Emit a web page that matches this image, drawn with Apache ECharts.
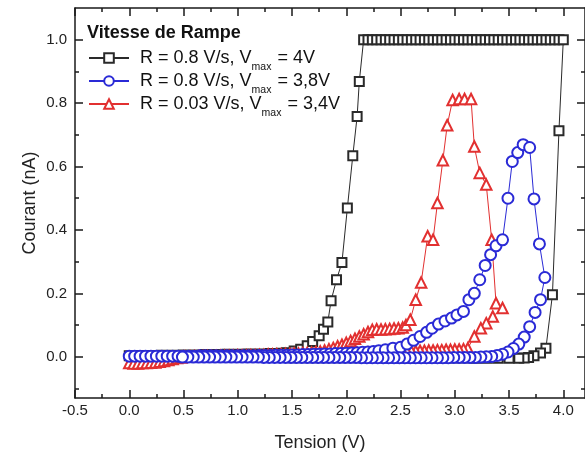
<!DOCTYPE html>
<html><head><meta charset="utf-8">
<script src="https://cdn.jsdelivr.net/npm/echarts@6/dist/echarts.min.js"></script>
<style>html,body{margin:0;padding:0;background:#fff}#c{width:585px;height:457px}</style>
</head><body><div id="c"></div>
<script>
// ---------- tick labels / ticks ----------
const xMajorTicks = [-0.5, 0, 0.5, 1, 1.5, 2, 2.5, 3, 3.5, 4];
const xMinorTicks = [-0.25, 0.25, 0.75, 1.25, 1.75, 2.25, 2.75, 3.25, 3.75];
const yMajorTicks = [0, 0.2, 0.4, 0.6, 0.8, 1.0];
const yMinorTicks = [-0.1, 0.1, 0.3, 0.5, 0.7, 0.9];

// ---------- series names ----------
const seriesNames = ['R = 0.8 V/s, Vmax = 4V', 'R = 0.8 V/s, Vmax = 3,8V', 'R = 0.03 V/s, Vmax = 3,4V'];

// ---------- black: R = 0.8 V/s, Vmax = 4V ----------
const blackUp = [[0.0,0.003],[0.1,0.004],[0.2,0.004],[0.3,0.005],[0.4,0.005],[0.5,0.006],[0.6,0.006],[0.7,0.007],[0.8,0.007],[0.9,0.008],[1.0,0.008],[1.1,0.009],[1.2,0.009],[1.3,0.010],[1.4,0.011],[1.45,0.013],[1.52,0.018],[1.58,0.024],[1.64,0.035],[1.69,0.048],[1.75,0.066],[1.79,0.087],[1.83,0.110],[1.86,0.177],[1.91,0.243],[1.96,0.297],[2.01,0.469],[2.06,0.634],[2.10,0.758],[2.12,0.868]];
const blackSat = [[2.16,1.0],[2.20,1.0],[2.24,1.0],[2.28,1.0],[2.32,1.0],[2.36,1.0],[2.40,1.0],[2.44,1.0],[2.48,1.0],[2.52,1.0],[2.56,1.0],[2.60,1.0],[2.64,1.0],[2.68,1.0],[2.72,1.0],[2.76,1.0],[2.80,1.0],[2.84,1.0],[2.88,1.0],[2.92,1.0],[2.96,1.0],[3.00,1.0],[3.04,1.0],[3.08,1.0],[3.12,1.0],[3.16,1.0],[3.20,1.0],[3.24,1.0],[3.28,1.0],[3.32,1.0],[3.36,1.0],[3.40,1.0],[3.44,1.0],[3.48,1.0],[3.52,1.0],[3.56,1.0],[3.60,1.0],[3.64,1.0],[3.68,1.0],[3.72,1.0],[3.76,1.0],[3.80,1.0],[3.84,1.0],[3.88,1.0],[3.92,1.0],[3.96,1.0],[4.00,1.0]];
const blackDown = [[3.96,0.713],[3.90,0.196],[3.84,0.027],[3.79,0.012],[3.73,0.003],[3.68,-0.002],[3.64,-0.004],[3.59,-0.005],[3.50,-0.005],[3.40,-0.005],[3.30,-0.005],[3.20,-0.005],[3.10,-0.004],[3.00,-0.004],[2.90,-0.004],[2.80,-0.004],[2.70,-0.004],[2.60,-0.004],[2.50,-0.004],[2.40,-0.004],[2.30,-0.003],[2.20,-0.003],[2.10,-0.003],[2.00,-0.003],[1.90,-0.003],[1.80,-0.003],[1.70,-0.003],[1.60,-0.003],[1.50,-0.003],[1.40,-0.002],[1.30,-0.002],[1.20,-0.002],[1.10,-0.002],[1.00,-0.002],[0.90,-0.002],[0.80,-0.002],[0.70,-0.001],[0.60,-0.001],[0.50,-0.001]];

// ---------- blue: R = 0.8 V/s, Vmax = 3,8V ----------
const blueUp = [[0.00,0.002],[0.05,0.002],[0.10,0.002],[0.15,0.002],[0.20,0.002],[0.25,0.002],[0.30,0.002],[0.35,0.002],[0.40,0.002],[0.45,0.002],[0.50,0.002],[0.55,0.002],[0.60,0.002],[0.65,0.003],[0.70,0.003],[0.75,0.003],[0.80,0.003],[0.85,0.003],[0.90,0.003],[0.95,0.003],[1.00,0.003],[1.05,0.003],[1.10,0.003],[1.15,0.003],[1.20,0.004],[1.25,0.004],[1.30,0.004],[1.35,0.005],[1.40,0.005],[1.45,0.005],[1.50,0.006],[1.55,0.006],[1.60,0.007],[1.65,0.007],[1.70,0.008],[1.75,0.008],[1.80,0.009],[1.85,0.009],[1.90,0.010],[1.95,0.010],[2.00,0.011],[2.05,0.012],[2.10,0.013],[2.15,0.014],[2.20,0.015],[2.25,0.017],[2.30,0.019],[2.36,0.022],[2.43,0.027],[2.50,0.030],[2.56,0.040],[2.62,0.052],[2.68,0.064],[2.74,0.077],[2.79,0.090],[2.85,0.103],[2.91,0.113],[2.97,0.122],[3.02,0.132],[3.08,0.143],[3.13,0.180],[3.18,0.200],[3.23,0.243],[3.28,0.288],[3.33,0.322],[3.38,0.350],[3.44,0.369],[3.49,0.500],[3.53,0.616],[3.58,0.644],[3.63,0.669],[3.69,0.660],[3.73,0.498],[3.78,0.356],[3.83,0.250]];
const blueDown = [[3.79,0.180],[3.74,0.140],[3.69,0.095],[3.64,0.062],[3.59,0.040],[3.54,0.026],[3.49,0.015],[3.44,0.008],[3.39,0.004],[3.34,0.001],[3.29,0.000],[3.24,-0.001],[3.19,-0.002],[3.14,-0.002],[3.09,-0.002],[3.04,-0.002],[2.99,-0.002],[2.94,-0.003],[2.89,-0.003],[2.84,-0.003],[2.79,-0.003],[2.74,-0.003],[2.69,-0.003],[2.64,-0.003],[2.59,-0.003],[2.54,-0.003],[2.49,-0.003],[2.44,-0.003],[2.39,-0.003],[2.34,-0.003],[2.29,-0.003],[2.24,-0.003],[2.19,-0.003],[2.14,-0.003],[2.09,-0.002],[2.04,-0.002],[1.99,-0.002],[1.94,-0.002],[1.89,-0.002],[1.84,-0.002],[1.79,-0.002],[1.74,-0.002],[1.69,-0.002],[1.64,-0.002],[1.59,-0.002],[1.54,-0.002],[1.49,-0.002],[1.44,-0.002],[1.39,-0.002],[1.34,-0.002],[1.29,-0.002],[1.24,-0.002],[1.19,-0.001],[1.14,-0.001],[1.09,-0.001],[1.04,-0.001],[0.99,-0.001],[0.94,-0.001],[0.89,-0.001],[0.84,-0.001],[0.79,-0.001],[0.74,-0.001],[0.69,-0.001],[0.64,-0.001],[0.59,-0.001],[0.54,-0.001],[0.49,-0.001]];

// ---------- red: R = 0.03 V/s, Vmax = 3,4V ----------
const redUp = [[0.00,-0.020],[0.04,-0.021],[0.08,-0.021],[0.12,-0.020],[0.16,-0.020],[0.20,-0.019],[0.24,-0.018],[0.28,-0.016],[0.32,-0.013],[0.36,-0.010],[0.40,-0.007],[0.44,-0.004],[0.48,-0.002],[0.52,0.000],[0.56,0.001],[0.60,0.001],[0.64,0.001],[0.68,0.002],[0.72,0.002],[0.76,0.002],[0.80,0.002],[0.84,0.003],[0.88,0.003],[0.92,0.003],[0.96,0.003],[1.00,0.004],[1.04,0.004],[1.08,0.004],[1.12,0.005],[1.16,0.005],[1.20,0.006],[1.24,0.006],[1.28,0.007],[1.32,0.007],[1.36,0.008],[1.40,0.008],[1.44,0.009],[1.48,0.009],[1.52,0.010],[1.56,0.010],[1.60,0.011],[1.64,0.012],[1.68,0.013],[1.72,0.015],[1.76,0.017],[1.80,0.020],[1.84,0.024],[1.88,0.028],[1.92,0.033],[1.96,0.038],[2.00,0.044],[2.04,0.050],[2.08,0.057],[2.12,0.064],[2.16,0.071],[2.20,0.078],[2.24,0.085],[2.28,0.087],[2.32,0.086],[2.36,0.087],[2.40,0.088],[2.44,0.089],[2.48,0.090],[2.52,0.092],[2.55,0.100],[2.59,0.117],[2.64,0.180],[2.69,0.234],[2.75,0.380],[2.80,0.369],[2.84,0.485],[2.89,0.620],[2.93,0.730],[2.98,0.810],[3.04,0.813],[3.09,0.813],[3.15,0.813],[3.18,0.663],[3.23,0.580],[3.29,0.543],[3.34,0.369],[3.38,0.169],[3.44,0.154]];
const redDown = [[3.35,0.127],[3.29,0.106],[3.24,0.090],[3.18,0.064],[3.12,0.027],[3.08,0.024],[3.04,0.023],[3.00,0.023],[2.96,0.022],[2.92,0.022],[2.88,0.021],[2.84,0.021],[2.80,0.020],[2.76,0.020],[2.72,0.019],[2.68,0.019],[2.64,0.018],[2.60,0.018],[2.56,0.017],[2.52,0.017],[2.48,0.016],[2.44,0.016],[2.40,0.015],[2.30,0.014],[2.20,0.013],[2.10,0.012],[2.00,0.011],[1.90,0.010],[1.80,0.009],[1.70,0.008],[1.60,0.007],[1.50,0.006],[1.40,0.005],[1.30,0.004],[1.20,0.004],[1.10,0.003],[1.00,0.003],[0.90,0.002],[0.80,0.002],[0.70,0.001],[0.60,0.001],[0.50,0.000]];

// ---------- chart ----------
const FONT = "'Liberation Sans', Arial, Helvetica, sans-serif";
const AX = '#1a1a1a';
const C_BLACK = '#2a2a2a', C_BLUE = '#2a2ad6', C_RED = '#e23030';
const X_MIN = -0.5, X_MAX = 4.2, Y_MIN = -0.13, Y_MAX = 1.1;

function xAxisDef(pos, ticks, len, showLine, extra) {
  return Object.assign({
    type: 'value', position: pos, min: X_MIN, max: X_MAX,
    axisLine: { show: showLine, onZero: false, lineStyle: { color: AX, width: 1.5 } },
    axisTick: { show: true, inside: true, length: len, customValues: ticks, lineStyle: { color: AX, width: 1.5 } },
    axisLabel: { show: false },
    splitLine: { show: false }
  }, extra || {});
}
function yAxisDef(pos, ticks, len, showLine, extra) {
  return Object.assign({
    type: 'value', position: pos, min: Y_MIN, max: Y_MAX,
    axisLine: { show: showLine, onZero: false, lineStyle: { color: AX, width: 1.5 } },
    axisTick: { show: true, inside: true, length: len, customValues: ticks, lineStyle: { color: AX, width: 1.5 } },
    axisLabel: { show: false },
    splitLine: { show: false }
  }, extra || {});
}

function seriesDef(name, data, symbol, size, color, z) {
  return {
    type: 'line', name: name, data: data, xAxisIndex: 0, yAxisIndex: 0,
    symbol: symbol, symbolSize: size, showSymbol: true, showAllSymbol: true,
    color: color, itemStyle: { color: color, borderWidth: 1 },
    lineStyle: { color: color, width: 1 }, z: z, animation: false
  };
}

function legendDef(name, top) {
  return {
    orient: 'vertical', left: 88, top: top, padding: 0,
    itemWidth: 40, itemHeight: 12, itemGap: 0,
    selectedMode: false,
    data: [name],
    formatter: function (n) {
      const parts = n.split('Vmax');
      return '{t|' + parts[0] + 'V}{s|max}{t|' + parts[1] + '}';
    },
    textStyle: {
      padding: [0, 0, 0, 6],
      rich: {
        t: { fontSize: 18, lineHeight: 30, color: '#111', fontFamily: FONT },
        s: { fontSize: 10.5, lineHeight: 10, verticalAlign: 'bottom', color: '#111', fontFamily: FONT, padding: [0, 1, 0, 0] }
      }
    }
  };
}

const chart = echarts.init(document.getElementById('c'), null, { renderer: 'canvas' });
chart.setOption({
  backgroundColor: '#fff',
  animation: false,
  textStyle: { fontFamily: FONT },
  title: {
    text: 'Vitesse de Rampe', left: 87, top: 24, padding: 0,
    textStyle: { fontSize: 18, fontWeight: 'bold', color: '#111', fontFamily: FONT }
  },
  legend: [
    legendDef(seriesNames[0], 49),
    legendDef(seriesNames[1], 72),
    legendDef(seriesNames[2], 95)
  ],
  grid: { left: 75, top: 8, width: 513, height: 390, containLabel: false },
  xAxis: [
    xAxisDef('bottom', xMajorTicks, 8, true, {
      axisLabel: { show: true, customValues: xMajorTicks, formatter: v => v.toFixed(1), margin: 5, fontSize: 15, color: '#222', fontFamily: FONT },
      name: 'Tension (V)', nameLocation: 'middle', nameGap: 36, nameMoveOverlap: false,
      nameTextStyle: { fontSize: 18, color: '#222', fontFamily: FONT, padding: [0, 20, 0, 0] }
    }),
    xAxisDef('bottom', xMinorTicks, 4, false),
    xAxisDef('top', xMajorTicks, 8, true),
    xAxisDef('top', xMinorTicks, 4, false)
  ],
  yAxis: [
    yAxisDef('left', yMajorTicks, 8, true, {
      axisLabel: { show: true, customValues: yMajorTicks, formatter: v => v.toFixed(1), margin: 8, fontSize: 15, color: '#222', fontFamily: FONT },
      name: 'Courant (nA)', nameLocation: 'middle', nameGap: 36, nameMoveOverlap: false,
      nameTextStyle: { fontSize: 18, color: '#222', fontFamily: FONT }
    }),
    yAxisDef('left', yMinorTicks, 4, false),
    yAxisDef('right', yMajorTicks, 8, true),
    yAxisDef('right', yMinorTicks, 4, false)
  ],
  series: [
    seriesDef(seriesNames[0], blackUp.concat(blackSat, blackDown), 'emptyRect', 9, C_BLACK, 2),
    seriesDef(seriesNames[2], redUp.concat(redDown), 'emptyTriangle', 10.5, C_RED, 3),
    seriesDef(seriesNames[1], blueUp.concat(blueDown), 'emptyCircle', 11, C_BLUE, 4)
  ]
});
</script></body></html>
